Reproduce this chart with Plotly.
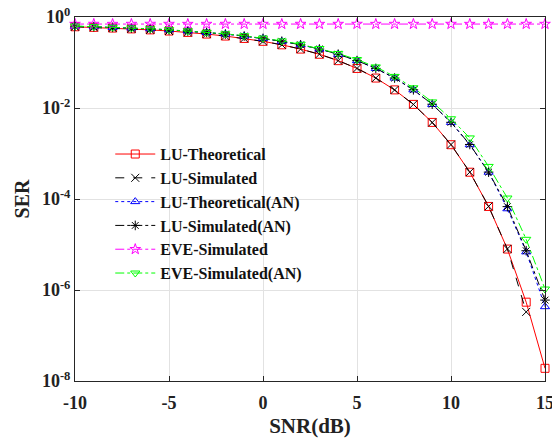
import plotly.graph_objects as go

snr_db = [-10, -9, -8, -7, -6, -5, -4, -3, -2, -1, 0, 1, 2, 3, 4, 5, 6, 7, 8, 9, 10, 11, 12, 13, 14, 15]

lu_theoretical = [0.6105, 0.5922, 0.5714, 0.5479, 0.5213, 0.4916, 0.4583, 0.4216, 0.3814, 0.3381,
                  0.2922, 0.2447, 0.1972, 0.1516, 0.1098, 0.0740, 0.0455, 0.0250, 0.0120, 0.00482,
                  0.00156, 3.88e-4, 6.86e-5, 7.94e-6, 5.4e-7, 1.9e-8]
lu_simulated = [0.611, 0.592, 0.571, 0.548, 0.521, 0.492, 0.458, 0.422, 0.381, 0.338,
                0.292, 0.245, 0.197, 0.152, 0.110, 0.0741, 0.0455, 0.0249, 0.0120, 0.00480,
                0.00157, 3.9e-4, 6.9e-5, 8.0e-6, 3.3e-7, None]
lu_theoretical_an = [0.627, 0.6105, 0.5922, 0.5714, 0.5479, 0.5213, 0.4916, 0.4583, 0.4216, 0.3814,
                     0.3381, 0.2922, 0.2447, 0.1972, 0.1516, 0.1098, 0.0740, 0.0455, 0.0250, 0.0120,
                     0.00482, 0.00156, 3.88e-4, 6.1e-5, 6.9e-6, 4.3e-7]
lu_simulated_an = [0.628, 0.611, 0.593, 0.572, 0.548, 0.522, 0.492, 0.459, 0.422, 0.382,
                   0.339, 0.293, 0.245, 0.198, 0.152, 0.110, 0.0742, 0.0456, 0.0251, 0.0121,
                   0.00485, 0.00158, 3.9e-4, 6.8e-5, 7.3e-6, 6.0e-7]
eve_simulated = [0.700, 0.701, 0.699, 0.700, 0.701, 0.700, 0.699, 0.700, 0.701, 0.700,
                 0.700, 0.699, 0.701, 0.700, 0.700, 0.701, 0.699, 0.700, 0.700, 0.701,
                 0.700, 0.699, 0.700, 0.701, 0.700, 0.700]
eve_simulated_an = [0.632, 0.614, 0.596, 0.575, 0.551, 0.525, 0.496, 0.463, 0.427, 0.387,
                    0.344, 0.298, 0.251, 0.203, 0.158, 0.116, 0.080, 0.0495, 0.0278, 0.0136,
                    0.0058, 0.0022, 5.2e-4, 1.05e-4, 1.3e-5, 1.05e-6]

series = [
    ("LU-Theoretical", lu_theoretical, "#FF0000", "solid", "square-open"),
    ("LU-Simulated", lu_simulated, "#000000", "dash", "x-thin-open"),
    ("LU-Theoretical(AN)", lu_theoretical_an, "#0000FF", "dot", "triangle-up-open"),
    ("LU-Simulated(AN)", lu_simulated_an, "#000000", "dashdot", "asterisk-open"),
    ("EVE-Simulated", eve_simulated, "#FF00FF", "dashdot", "star-open"),
    ("EVE-Simulated(AN)", eve_simulated_an, "#00FF00", "dashdot", "triangle-down-open"),
]

ytick_vals = [1, 1e-2, 1e-4, 1e-6, 1e-8]
ytick_text = ["<b>10<sup>0</sup></b>", "<b>10<sup>-2</sup></b>", "<b>10<sup>-4</sup></b>",
              "<b>10<sup>-6</sup></b>", "<b>10<sup>-8</sup></b>"]
xtick_vals = [-10, -5, 0, 5, 10, 15]
xtick_text = ["<b>-10</b>", "<b>-5</b>", "<b>0</b>", "<b>5</b>", "<b>10</b>", "<b>15</b>"]

fig = go.Figure()
for name, vals, color, dash, sym in series:
    fig.add_trace(go.Scatter(
        x=snr_db, y=vals, name="<b>" + name + "</b>", mode="lines+markers",
        line=dict(color=color, width=1, dash=dash),
        marker=dict(symbol=sym, size=8, color=color, line=dict(width=1, color=color)),
        cliponaxis=False, connectgaps=False,
    ))

font_family = "Liberation Serif, Times New Roman, serif"
fig.update_layout(
    width=552, height=438,
    margin=dict(l=75, r=7, t=17, b=57, autoexpand=False),
    paper_bgcolor="white", plot_bgcolor="white",
    font=dict(family=font_family, color="#222222", size=16),
    showlegend=True,
    legend=dict(
        x=0.075, y=0.67, xanchor="left", yanchor="top",
        bgcolor="rgba(0,0,0,0)", borderwidth=0,
        font=dict(family=font_family, size=16, color="#111111"),
        tracegroupgap=0, itemwidth=40,
    ),
    xaxis=dict(
        range=[-10, 15], tickvals=xtick_vals, ticktext=xtick_text, automargin=False,
        showgrid=True, gridcolor="#e2e2e2", gridwidth=1,
        showline=True, linecolor="#262626", linewidth=1, mirror="ticks",
        ticks="inside", ticklen=5, tickcolor="#262626",
        ticklabeloverflow="allow", ticklabelstandoff=5,
        tickfont=dict(family=font_family, size=18, color="#222222"),
        title=dict(text="<b>SNR(dB)</b>", font=dict(family=font_family, size=21, color="#222222"), standoff=8),
        zeroline=False,
    ),
    yaxis=dict(
        type="log", range=[-8, 0], tickvals=ytick_vals, ticktext=ytick_text, automargin=False,
        showgrid=True, gridcolor="#e2e2e2", gridwidth=1,
        showline=True, linecolor="#262626", linewidth=1, mirror="ticks",
        ticks="inside", ticklen=5, tickcolor="#262626",
        tickfont=dict(family=font_family, size=18, color="#222222"),
        title=dict(text="<b>SER</b>", font=dict(family=font_family, size=20, color="#222222"), standoff=6),
        zeroline=False,
    ),
)

fig.write_html("out.html")
